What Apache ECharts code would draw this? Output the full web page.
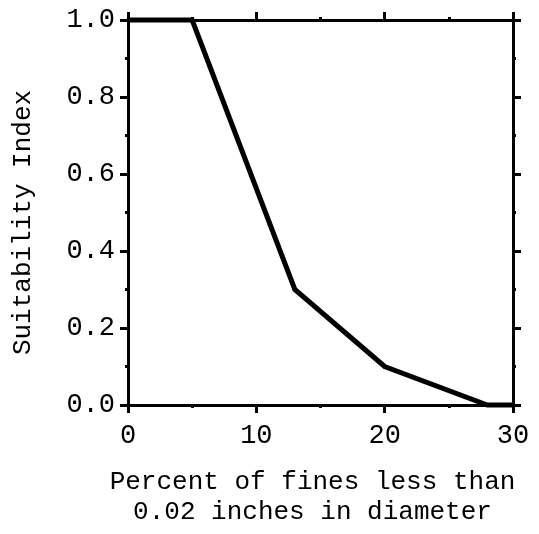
<!DOCTYPE html>
<html>
<head>
<meta charset="utf-8">
<script src="https://cdn.jsdelivr.net/npm/echarts@6/dist/echarts.min.js"></script>
<style>html,body{margin:0;padding:0;background:#fff}#c{width:539px;height:534px}</style>
</head>
<body>
<div id="c"></div>
<script>
const xValues = [0, 5, 13, 20, 28, 30];
const yValues = [1.0, 1.0, 0.3, 0.1, 0.0, 0.0];
const xTitle = 'Percent of fines less than\n0.02 inches in diameter';
const yTitle = 'Suitability Index';

const font = 'Liberation Mono';
const chart = echarts.init(document.getElementById('c'), null, {renderer: 'canvas'});
const axisCommon = {
  axisLine: {show: true, onZero: false, lineStyle: {color: '#000', width: 3}},
  splitLine: {show: false},
};
chart.setOption({
  animation: false,
  backgroundColor: '#fff',
  grid: {left: 128, right: 26, top: 20, bottom: 129},
  xAxis: [
    Object.assign({}, axisCommon, {
      type: 'value', position: 'bottom', min: 0, max: 30, interval: 10,
      axisTick: {show: true, inside: false, length: 8, lineStyle: {color: '#000', width: 3}},
      minorTick: {show: true, splitNumber: 2, length: 3, lineStyle: {color: '#000', width: 3}},
      axisLabel: {color: '#000', fontFamily: font, fontSize: 27, margin: 17},
      name: xTitle, nameLocation: 'middle', nameGap: 62,
      nameTextStyle: {color: '#000', fontFamily: font, fontSize: 26, lineHeight: 30, padding: [0, 16, 0, 0]}
    }),
    Object.assign({}, axisCommon, {
      type: 'value', position: 'top', min: 0, max: 30, interval: 10,
      axisTick: {show: true, inside: false, length: 8, lineStyle: {color: '#000', width: 3}},
      minorTick: {show: true, splitNumber: 2, length: 3, lineStyle: {color: '#000', width: 3}},
      axisLabel: {show: false}
    })
  ],
  yAxis: [
    Object.assign({}, axisCommon, {
      type: 'value', position: 'left', min: 0, max: 1, interval: 0.2,
      axisTick: {show: true, inside: false, length: 8, lineStyle: {color: '#000', width: 3}},
      minorTick: {show: true, splitNumber: 2, length: 3, lineStyle: {color: '#000', width: 3}},
      axisLabel: {color: '#000', fontFamily: font, fontSize: 27, margin: 13,
        formatter: v => v.toFixed(1)},
      name: yTitle, nameLocation: 'middle', nameGap: 92, nameRotate: 90,
      nameTextStyle: {color: '#000', fontFamily: font, fontSize: 26, padding: [0, 20, 0, 0]}
    }),
    Object.assign({}, axisCommon, {
      type: 'value', position: 'right', min: 0, max: 1, interval: 0.2,
      axisTick: {show: true, inside: false, length: 8, lineStyle: {color: '#000', width: 3}},
      minorTick: {show: true, splitNumber: 2, length: 3, lineStyle: {color: '#000', width: 3}},
      axisLabel: {show: false}
    })
  ],
  series: [{
    type: 'line',
    xAxisIndex: 0, yAxisIndex: 0,
    data: xValues.map((x, i) => [x, yValues[i]]),
    showSymbol: false, symbol: 'none',
    lineStyle: {color: '#000', width: 5, join: 'miter'},
    clip: false
  }]
});
</script>
</body>
</html>
